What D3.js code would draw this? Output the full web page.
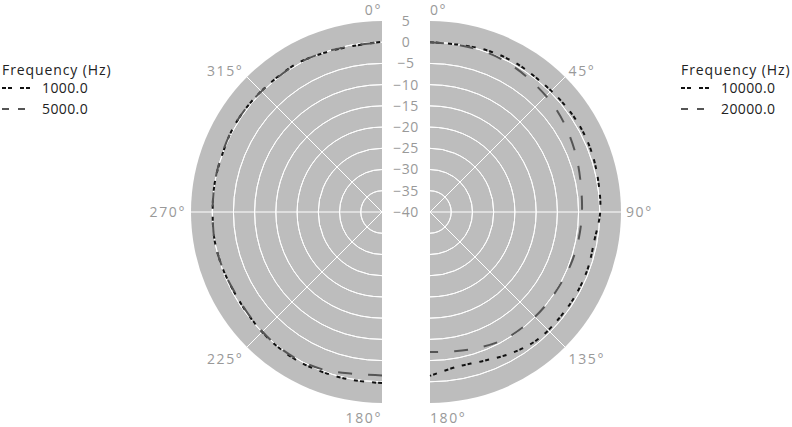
<!DOCTYPE html>
<html>
<head>
<meta charset="utf-8">
<script src="https://cdn.jsdelivr.net/npm/d3@7"></script>
<style>
  body { margin: 0; background: #fff; }
  text { font-family: "Open Sans", sans-serif; }
</style>
</head>
<body>
<div id="chart"></div>
<script>
/**
 * CONSTANTS AND DATA
 * */
const width = 792,
  height = 427;

// angles in degrees, clockwise from top
const leftAngles = [180, 190, 200, 210, 220, 230, 240, 250, 260, 270, 280, 290, 300, 310, 320, 330, 340, 350, 360];
const rightAngles = [0, 10, 20, 30, 40, 50, 60, 70, 80, 90, 100, 110, 120, 130, 140, 150, 160, 170, 180];

// level in dB
const f1000 = [0.3, 0.2, 0.2, 0.3, 0.1, -0.2, -0.4, -0.2, 0.0, -0.1, 0.0, 0.0, 0.3, 0.3, 0.2, 0.3, -0.1, -0.3, 0.1];
const f5000 = [-1.5, -1.3, -0.4, 0.0, 0.0, -0.3, -0.5, -0.2, 0.0, -0.1, 0.0, 0.1, 0.3, 0.3, 0.1, 0.2, 0.0, -0.2, 0.0];
const f10000 = [0.0, 0.0, 0.4, 0.5, 0.3, 0.5, 0.7, 0.6, 0.3, 0.1, -0.7, -0.5, -0.5, -0.6, -0.7, -1.6, -2.7, -3.0, -1.4];
const f20000 = [0.0, -0.1, -0.1, -0.5, -1.1, -1.6, -2.4, -3.2, -3.9, -4.2, -4.4, -4.6, -4.9, -5.0, -5.1, -5.3, -6.0, -6.7, -7.0];

const radialTicks = [5, 0, -5, -10, -15, -20, -25, -30, -35, -40];
const gridRings = [0, -5, -10, -15, -20, -25, -30, -35];
const leftSpokes = [180, 225, 270, 315, 360];
const rightSpokes = [0, 45, 90, 135, 180];

const cy = 212;
const panels = [
  {
    cx: 382, from: 180, to: 360, angles: leftAngles, spokes: leftSpokes,
    series: [
      { name: "1000.0", values: f1000, color: "#111", dash: "4,2,4,8", legendDash: "4,2,4,8" },
      { name: "5000.0", values: f5000, color: "#555", dash: "14,16", legendDash: "7,9" },
    ],
    legendX: 2,
  },
  {
    cx: 430, from: 0, to: 180, angles: rightAngles, spokes: rightSpokes,
    series: [
      { name: "10000.0", values: f10000, color: "#111", dash: "4,2,4,8", legendDash: "4,2,4,8" },
      { name: "20000.0", values: f20000, color: "#555", dash: "14,16", legendDash: "7,9" },
    ],
    legendX: 681,
  },
];

const r = d3.scaleLinear().domain([-40, 5]).range([0, 191]);
const rad = d => d * Math.PI / 180;

const svg = d3.select("#chart")
  .append("svg")
  .attr("width", width)
  .attr("height", height);

panels.forEach(p => {
  const g = svg.append("g").attr("transform", `translate(${p.cx},${cy})`);

  // grey half disk
  g.append("path")
    .attr("d", d3.arc()({ innerRadius: 0, outerRadius: r(5), startAngle: rad(p.from), endAngle: rad(p.to) }))
    .attr("fill", "#bdbdbd");

  // rings
  g.selectAll(".ring")
    .data(gridRings)
    .join("path")
    .attr("class", "ring")
    .attr("d", d => d3.arc()({ innerRadius: r(d), outerRadius: r(d), startAngle: rad(p.from), endAngle: rad(p.to) }))
    .attr("fill", "none")
    .attr("stroke", "#fff")
    .attr("stroke-width", 1);

  // spokes (skip the straight edges)
  g.selectAll(".spoke")
    .data(p.spokes.filter(a => a % 180 !== 0))
    .join("line")
    .attr("class", "spoke")
    .attr("x1", 0).attr("y1", 0)
    .attr("x2", d => r(5) * Math.sin(rad(d)))
    .attr("y2", d => -r(5) * Math.cos(rad(d)))
    .attr("stroke", "#fff")
    .attr("stroke-width", 1);

  // angle labels
  g.selectAll(".alabel")
    .data(p.spokes)
    .join("text")
    .attr("class", "alabel")
    .attr("x", d => {
      const s = Math.sin(rad(d));
      return Math.abs(s) < 0.01 ? 0 : (r(5) + 5) * s;
    })
    .attr("y", d => {
      const c = Math.cos(rad(d));
      return -(r(5) + 11) * c + (c < -0.1 ? 4 : (c > 0.1 && c < 0.9 ? 2 : 0));
    })
    .attr("dy", "0.35em")
    .attr("text-anchor", d => {
      const s = Math.sin(rad(d));
      if (Math.abs(s) < 0.01) return p.from === 0 ? "start" : "end";
      return s > 0 ? "start" : "end";
    })
    .attr("fill", "#999")
    .attr("font-size", 14)
    .attr("letter-spacing", 1.6)
    .text(d => `${d % 360 === 0 ? 0 : d}°`);

  // series lines
  p.series.forEach(s => {
    const line = d3.lineRadial()
      .angle((d, i) => rad(p.angles[i]))
      .radius(d => r(d))
      .curve(d3.curveCatmullRom);
    g.append("path")
      .datum(s.values)
      .attr("d", line)
      .attr("fill", "none")
      .attr("stroke", s.color)
      .attr("stroke-width", 2)
      .attr("stroke-dasharray", s.dash);
  });

  // legend
  const lg = svg.append("g").attr("transform", `translate(${p.legendX},70)`);
  lg.append("text")
    .attr("x", 0).attr("y", 0).attr("dy", "0.35em")
    .attr("font-size", 14)
    .attr("letter-spacing", 0.9)
    .attr("fill", "#222")
    .text("Frequency (Hz)");
  const items = lg.selectAll(".item")
    .data(p.series)
    .join("g")
    .attr("class", "item")
    .attr("transform", (d, i) => `translate(0,${18 + i * 21})`);
  items.append("line")
    .attr("x1", 0).attr("x2", 30)
    .attr("stroke", d => d.color)
    .attr("stroke-width", 2)
    .attr("stroke-dasharray", d => d.legendDash);
  items.append("text")
    .attr("x", 40).attr("dy", "0.35em")
    .attr("font-size", 14)
    .attr("letter-spacing", 0.4)
    .attr("fill", "#222")
    .text(d => d.name);
});

// radial tick labels in the gap
svg.selectAll(".rlabel")
  .data(radialTicks)
  .join("text")
  .attr("class", "rlabel")
  .attr("x", 406)
  .attr("y", d => cy - r(d))
  .attr("dy", "0.35em")
  .attr("text-anchor", "middle")
  .attr("fill", "#999")
  .attr("font-size", 14)
  .attr("letter-spacing", 0.5)
  .text(d => d < 0 ? `\u2212${-d}` : d);
</script>
</body>
</html>
